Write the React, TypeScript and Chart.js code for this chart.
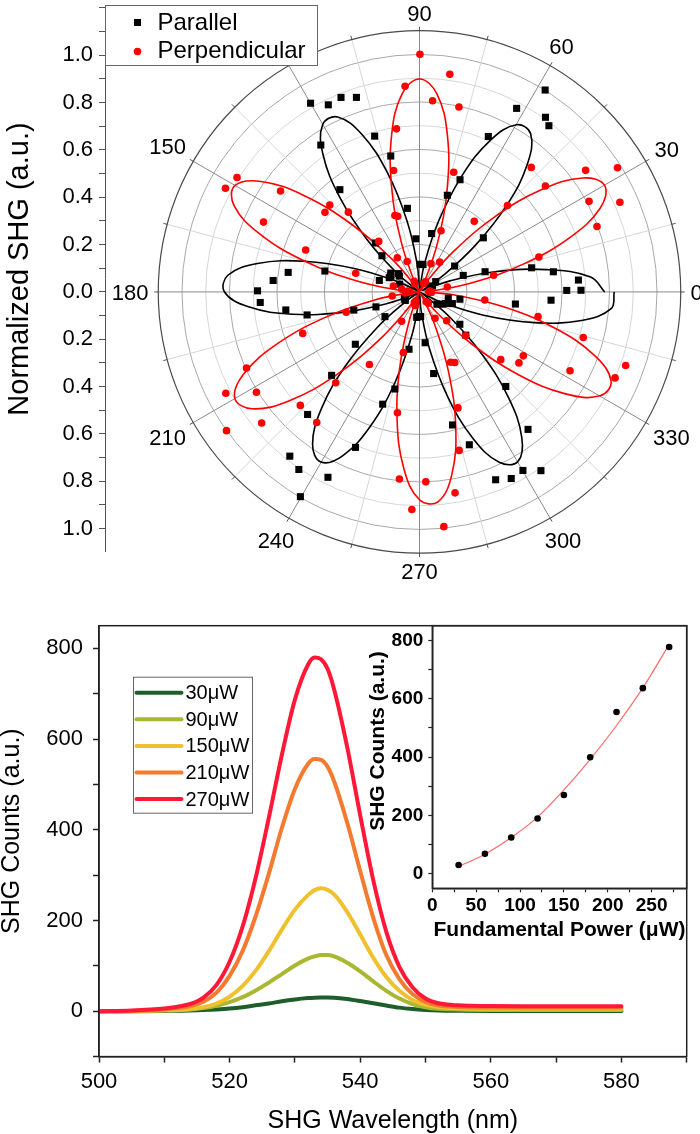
import React, { useEffect, useRef } from "react";
import { Chart, registerables } from "chart.js";
Chart.register(...registerables);

const FONT = "'Liberation Sans', Arial, Helvetica, sans-serif";

// ---------------- Polar panel data ----------------
const polarAngleLabels = [0, 30, 60, 90, 120, 150, 180, 210, 240, 270, 300, 330];

const parallelAngles = [0.6, 0.6, 4.3, 8.6, 12.2, 17.2, 20.8, 24.6, 28.6, 32.6, 36.5, 40.4, 52.2, 54.3, 58.2, 62.2, 66.2, 70.2, 74.0, 78.3, 82.8, 89.0, 93.9, 98.2, 101.9, 106.0, 107.9, 111.9, 115.9, 119.9, 123.8, 127.8, 131.9, 135.9, 139.0, 141.6, 146.6, 150.7, 154.7, 158.5, 163.9, 167.5, 171.5, 175.5, 179.6, 183.8, 187.7, 191.6, 195.5, 199.0, 202.5, 206.7, 211.0, 215.7, 219.3, 223.6, 227.7, 231.8, 235.9, 239.9, 243.8, 247.7, 251.9, 255.8, 259.7, 263.8, 267.0, 272.7, 276.3, 279.8, 283.9, 288.0, 292.0, 296.1, 300.0, 304.1, 308.2, 312.3, 316.9, 321.2, 325.0, 331.6, 336.0, 340.4, 347.7, 349.8, 352.8, 356.4];
const parallelR = [0.68, 0.62, 0.671, 0.57, 0.483, 0.289, 0.197, 0.06, 0.05, 0.081, 0.184, 0.353, 0.889, 0.909, 1.004, 0.877, 0.718, 0.504, 0.425, 0.252, 0.117, 0.117, 0.225, 0.357, 0.587, 0.685, 0.864, 0.886, 0.879, 0.92, 0.747, 0.547, 0.278, 0.22, 0.118, 0.108, 0.145, 0.138, 0.141, 0.09, 0.176, 0.408, 0.559, 0.618, 0.682, 0.672, 0.568, 0.483, 0.287, 0.194, 0.069, 0.068, 0.07, 0.179, 0.349, 0.511, 0.7, 0.883, 0.906, 1.0, 0.873, 0.71, 0.499, 0.423, 0.246, 0.108, 0.105, 0.104, 0.216, 0.35, 0.579, 0.679, 0.856, 0.878, 0.871, 0.912, 0.739, 0.54, 0.267, 0.218, 0.09, 0.109, 0.12, 0.147, 0.124, 0.173, 0.407, 0.555];

const perpAngles = [2, 5, 10.2, 12.7, 16.4, 20.3, 24.2, 28.2, 32.2, 36.3, 40.2, 44.6, 48.2, 52.3, 56.0, 60.0, 64.0, 68.0, 70.7, 74.1, 78.0, 82.1, 86.1, 89.9, 94.0, 98.0, 102.0, 106.0, 107.8, 112.0, 116.0, 120.0, 122.9, 128.8, 131.6, 135.8, 139.8, 143.9, 147.8, 151.8, 155.8, 159.7, 163.6, 167.0, 171.0, 176.0, 180.0, 184.0, 188.4, 195.5, 199.6, 203.8, 207.7, 211.7, 215.8, 219.8, 223.7, 227.4, 231.9, 235.5, 238.7, 244.0, 248.0, 252.0, 255.1, 259.7, 263.9, 268.0, 271.9, 275.9, 280.0, 284.0, 288.3, 293.8, 296.5, 300.5, 304.0, 308.0, 313.2, 316.4, 320.1, 324.4, 328.3, 332.3, 336.2, 340.3, 344.4, 348.2, 353.0, 357.0];
const perpR = [0.04, 0.044, 0.119, 0.32, 0.524, 0.797, 0.925, 0.81, 0.985, 0.868, 0.694, 0.52, 0.706, 0.377, 0.152, 0.05, 0.04, 0.129, 0.274, 0.526, 0.799, 0.929, 0.81, 1.004, 0.871, 0.696, 0.525, 0.333, 0.339, 0.139, 0.05, 0.04, 0.172, 0.274, 0.451, 0.527, 0.521, 0.724, 0.908, 0.927, 0.72, 0.511, 0.28, 0.113, 0.076, 0.05, 0.04, 0.06, 0.116, 0.32, 0.522, 0.796, 0.921, 0.807, 1.002, 0.865, 0.694, 0.521, 0.701, 0.372, 0.145, 0.05, 0.04, 0.06, 0.265, 0.519, 0.795, 0.92, 0.803, 0.997, 0.862, 0.69, 0.516, 0.325, 0.333, 0.129, 0.05, 0.06, 0.167, 0.269, 0.446, 0.515, 0.514, 0.716, 0.9, 0.922, 0.716, 0.51, 0.277, 0.05];

const fitAngles = [0, 5, 10, 15, 20, 25, 30, 35, 40, 45, 50, 55, 60, 65, 70, 75, 80, 85, 90, 95, 100, 105, 110, 115, 120, 125, 130, 135, 140, 145, 150, 155, 160, 165, 170, 175, 180, 185, 190, 195, 200, 205, 210, 215, 220, 225, 230, 235, 240, 245, 250, 255, 260, 265, 270, 275, 280, 285, 290, 295, 300, 305, 310, 315, 320, 325, 330, 335, 340, 345, 350, 355, 360];
const parallelFitR = [0.78, 0.723, 0.543, 0.329, 0.137, 0.02, 0.014, 0.122, 0.308, 0.522, 0.708, 0.816, 0.816, 0.708, 0.522, 0.308, 0.122, 0.014, 0.014, 0.122, 0.308, 0.522, 0.708, 0.816, 0.816, 0.708, 0.522, 0.308, 0.122, 0.014, 0.009, 0.107, 0.287, 0.501, 0.693, 0.81, 0.821, 0.723, 0.543, 0.329, 0.137, 0.02, 0.001, 0.067, 0.227, 0.437, 0.641, 0.785, 0.83, 0.763, 0.603, 0.393, 0.189, 0.045, 0.002, 0.079, 0.246, 0.458, 0.659, 0.794, 0.828, 0.751, 0.584, 0.372, 0.171, 0.036, 0.009, 0.107, 0.287, 0.501, 0.693, 0.81, 0.82];
const perpFitR = [0.022, 0.06, 0.225, 0.45, 0.675, 0.84, 0.9, 0.84, 0.675, 0.45, 0.225, 0.06, 0.0, 0.06, 0.225, 0.45, 0.675, 0.84, 0.9, 0.84, 0.675, 0.45, 0.225, 0.06, 0.0, 0.039, 0.185, 0.403, 0.633, 0.814, 0.898, 0.861, 0.715, 0.497, 0.267, 0.086, 0.002, 0.039, 0.185, 0.403, 0.633, 0.814, 0.898, 0.861, 0.715, 0.497, 0.267, 0.086, 0.002, 0.01, 0.116, 0.311, 0.544, 0.751, 0.878, 0.89, 0.784, 0.589, 0.356, 0.149, 0.022, 0.01, 0.116, 0.311, 0.544, 0.751, 0.878, 0.89, 0.784, 0.589, 0.356, 0.149, 0.022];

// ---------------- Spectra panel data ----------------
const wavelengths = [500, 505, 510, 512, 514, 516, 518, 520, 522, 524, 526, 528, 530, 532, 533, 534, 535, 536, 538, 540, 542, 544, 546, 548, 550, 552, 555, 560, 565, 570, 575, 580];
const spec30 = [0, 0, 0.5, 1, 1.5, 2.5, 4, 6, 9, 13, 17, 22, 26, 29, 30, 30.5, 30.5, 30, 27, 22.5, 17.5, 12.5, 8, 5, 3, 1.8, 1, 0.5, 0.5, 0.5, 0.5, 0.5];
const spec90 = [0, 0.5, 1.5, 2.5, 4, 7, 12, 20, 31, 46, 63, 82, 101, 116, 121, 124, 124, 121, 107, 88, 66, 45, 28, 16, 9, 5.5, 4, 3, 3, 3, 3, 3];
const spec150 = [0, 0.3, 2, 3, 5, 9, 17, 32, 56, 89.5, 132.5, 180, 224, 256, 267, 271, 267.5, 257.5, 219, 169, 118, 75.5, 45, 25, 14.5, 9.3, 6.5, 5.5, 5.5, 5.5, 5.5, 5.5];
const spec210 = [0, 0.5, 4, 7, 11.5, 21, 41, 78, 133, 210, 303, 404, 490, 545, 556, 554, 539, 507, 416, 309, 206, 124, 71, 38, 20.5, 12.5, 9.5, 8, 8, 8, 8, 8];
const spec270 = [0, 1.5, 6, 10, 16, 30, 58, 109, 187, 295, 426, 565, 687, 764, 780, 776, 755, 710, 583, 432, 289, 175, 98, 53, 28, 17.5, 13, 11.5, 11, 11, 11, 11];
const specLabels = ["30\u03bcW", "90\u03bcW", "150\u03bcW", "210\u03bcW", "270\u03bcW"];
const specColors = ["#1d5e2b", "#a9b733", "#efc12f", "#f37a2e", "#ff1838"];

// ---------------- Inset data ----------------
const powers = [30, 60, 90, 120, 150, 180, 210, 240, 270];
const counts = [30, 68, 124, 189, 270, 399, 554, 636, 777];
const fitPowers = [30, 60, 90, 120, 150, 180, 210, 240, 270];
const fitCounts = [25, 67, 124, 194, 287, 392, 508, 637, 786];
const insetYTicks = [0, 100, 200, 300, 400, 500, 600, 700, 800];

// ---------------- helpers ----------------
const toXY = (angles: number[], rs: number[]) =>
  angles.map((a, i) => ({ x: rs[i] * Math.cos((a * Math.PI) / 180), y: rs[i] * Math.sin((a * Math.PI) / 180) }));

const R_MAX = 1.1;
const RING_STEP = 0.1;
const LABEL_GAP = 1.141;

const polarDecor = {
  id: "polarDecor",
  beforeDatasetsDraw(chart: any) {
    const { ctx, scales } = chart;
    const xs = scales.x, ys = scales.y;
    const cx = xs.getPixelForValue(0), cy = ys.getPixelForValue(0);
    const unit = xs.getPixelForValue(1) - cx;
    ctx.save();
    ctx.lineWidth = 1;
    for (let k = 1; k <= 10; k++) {
      ctx.strokeStyle = k % 2 === 0 ? "#a8a8a8" : "#d6d6d6";
      ctx.beginPath();
      ctx.arc(cx, cy, unit * k * RING_STEP, 0, Math.PI * 2);
      ctx.stroke();
    }
    for (let a = 0; a < 360; a += 15) {
      const rad = (a * Math.PI) / 180;
      ctx.strokeStyle = a % 30 === 0 ? "#8a8a8a" : "#d6d6d6";
      ctx.beginPath();
      ctx.moveTo(cx, cy);
      ctx.lineTo(cx + unit * R_MAX * Math.cos(rad), cy - unit * R_MAX * Math.sin(rad));
      ctx.stroke();
      ctx.strokeStyle = "#555";
      ctx.beginPath();
      ctx.moveTo(cx + unit * R_MAX * Math.cos(rad), cy - unit * R_MAX * Math.sin(rad));
      ctx.lineTo(cx + (unit * R_MAX + 4) * Math.cos(rad), cy - (unit * R_MAX + 4) * Math.sin(rad));
      ctx.stroke();
    }
    ctx.strokeStyle = "#4a4a4a";
    ctx.lineWidth = 1.2;
    ctx.beginPath();
    ctx.arc(cx, cy, unit * R_MAX, 0, Math.PI * 2);
    ctx.stroke();
    const fs = 22;
    ctx.font = `${fs}px ${FONT}`;
    ctx.fillStyle = "#000";
    ctx.textAlign = "center";
    ctx.textBaseline = "alphabetic";
    const capH = fs * 0.72;
    for (const a of polarAngleLabels) {
      const rad = (a * Math.PI) / 180;
      const txt = String(a);
      const w = ctx.measureText(txt).width;
      const c = Math.cos(rad), s = Math.sin(rad);
      const d = unit * LABEL_GAP + (Math.abs(c) * w) / 2 + (Math.abs(s) * capH) / 2;
      ctx.fillText(txt, cx + d * c, cy - d * s + capH / 2);
    }
    ctx.restore();
  },
  afterDraw(chart: any) {
    const { ctx, chartArea: ca } = chart;
    const bx = ca.left + 0.5, by = ca.top + 0.5, bw = 212, bh = 60;
    ctx.save();
    ctx.fillStyle = "#fff";
    ctx.fillRect(bx, by, bw, bh);
    ctx.strokeStyle = "#666";
    ctx.lineWidth = 1;
    ctx.strokeRect(bx, by, bw, bh);
    ctx.font = `24px ${FONT}`;
    ctx.textAlign = "left";
    ctx.textBaseline = "middle";
    const mx = bx + 32;
    ctx.fillStyle = "#000";
    ctx.fillRect(mx - 3.5, by + 17 - 3.5, 7, 7);
    ctx.fillText(chart.data.datasets[1].label, bx + 52, by + 18);
    ctx.fillStyle = "#ff0000";
    ctx.beginPath();
    ctx.arc(mx, by + 46, 3.8, 0, Math.PI * 2);
    ctx.fill();
    ctx.fillStyle = "#000";
    ctx.fillText(chart.data.datasets[0].label, bx + 52, by + 46);
    ctx.restore();
  },
};

const framePlugin = {
  id: "frame",
  afterDraw(chart: any) {
    const { ctx, chartArea: ca } = chart;
    ctx.save();
    ctx.strokeStyle = "#222";
    ctx.lineWidth = 1.5;
    ctx.strokeRect(ca.left, ca.top, ca.right - ca.left, ca.bottom - ca.top);
    ctx.restore();
  },
};

const yTitlePlugin = {
  id: "yTitle",
  afterDraw(chart: any, _args: any, opts: any) {
    if (!opts || !opts.text) return;
    const ys = chart.scales.y;
    const { ctx } = chart;
    ctx.save();
    ctx.translate(opts.x, (ys.top + ys.bottom) / 2 + opts.dy);
    ctx.rotate(-Math.PI / 2);
    ctx.font = opts.font;
    ctx.fillStyle = "#000";
    ctx.textAlign = "center";
    ctx.textBaseline = "middle";
    ctx.fillText(opts.text, 0, 0);
    ctx.restore();
  },
};

const specLegend = {
  id: "specLegend",
  afterDraw(chart: any) {
    const { ctx, chartArea: ca } = chart;
    const bx = ca.left + 34.5, by = ca.top + 51.5, bw = 119, bh = 136;
    ctx.save();
    ctx.fillStyle = "#fff";
    ctx.fillRect(bx, by, bw, bh);
    ctx.strokeStyle = "#666";
    ctx.lineWidth = 1;
    ctx.strokeRect(bx, by, bw, bh);
    ctx.font = `20px ${FONT}`;
    ctx.textAlign = "left";
    ctx.textBaseline = "middle";
    const ds = chart.data.datasets.slice().reverse();
    ds.forEach((d: any, i: number) => {
      const y = by + 15.5 + i * 26.6;
      ctx.strokeStyle = d.borderColor;
      ctx.lineWidth = 4;
      ctx.lineCap = "round";
      ctx.beginPath();
      ctx.moveTo(bx + 3, y);
      ctx.lineTo(bx + 48, y);
      ctx.stroke();
      ctx.fillStyle = "#000";
      ctx.fillText(d.label, bx + 52, y + 1);
    });
    ctx.restore();
  },
};

export default function App() {
  const polarRef = useRef<HTMLCanvasElement>(null);
  const mainRef = useRef<HTMLCanvasElement>(null);
  const insetRef = useRef<HTMLCanvasElement>(null);

  useEffect(() => {
    Chart.defaults.font.family = FONT;
    Chart.defaults.color = "#000";

    const polar = new Chart(polarRef.current as HTMLCanvasElement, {
      type: "scatter",
      data: {
        datasets: [
          {
            label: "Perpendicular",
            data: toXY(perpAngles, perpR),
            pointStyle: "circle",
            pointRadius: 3.8,
            pointBorderWidth: 0,
            backgroundColor: "#ff0000",
            borderColor: "#ff0000",
            showLine: false,
          },
          {
            label: "Parallel",
            data: toXY(parallelAngles, parallelR),
            pointStyle: "rect",
            pointRadius: 5,
            pointBorderWidth: 0,
            backgroundColor: "#000",
            borderColor: "#000",
            showLine: false,
          },
          {
            label: "Perpendicular fit",
            data: toXY(fitAngles, perpFitR),
            showLine: true,
            pointRadius: 0,
            borderColor: "#ff0000",
            borderWidth: 1.6,
            tension: 0.4,
          },
          {
            label: "Parallel fit",
            data: toXY(fitAngles, parallelFitR),
            showLine: true,
            pointRadius: 0,
            borderColor: "#000",
            borderWidth: 1.6,
            tension: 0.4,
          },
        ],
      } as any,
      options: {
        responsive: false,
        devicePixelRatio: 1,
        animation: false,
        events: [],
        layout: { padding: { left: 0, top: 3, right: 8, bottom: 39 } },
        plugins: {
          legend: { display: false },
          tooltip: { enabled: false },
          yTitle: { text: "Normalized SHG (a.u.)", font: `29px ${FONT}`, x: 20, dy: -9 },
        },
        scales: {
          x: { type: "linear", display: false, min: -1.3242, max: 1.1474 },
          y: {
            type: "linear",
            min: -1.0947,
            max: 1.2126,
            afterFit: (s: any) => {
              s.width = 105;
              s.paddingTop = 0;
              s.paddingBottom = 0;
            },
            ticks: {
              stepSize: 0.1,
              autoSkip: false,
              includeBounds: false,
              padding: 6,
              font: { size: 22 },
              color: "#000",
              callback: (v: any) => {
                const n = Math.round(Number(v) * 10);
                if (n % 2 !== 0 || Math.abs(n) > 10) return "";
                return Math.abs(n / 10).toFixed(1);
              },
            },
            grid: { drawOnChartArea: false, tickLength: 6, tickColor: "#555" },
            border: { display: true, color: "#555", width: 1 },
            title: { display: false },
          },
        },
      } as any,
      plugins: [polarDecor, yTitlePlugin],
    });

    const specData = [spec270, spec210, spec150, spec90, spec30];
    const specIdx = [4, 3, 2, 1, 0];
    const main = new Chart(mainRef.current as HTMLCanvasElement, {
      type: "line",
      data: {
        datasets: specData.map((arr, i) => ({
          label: specLabels[specIdx[i]],
          data: wavelengths.map((w, j) => ({ x: w, y: arr[j] })),
          borderColor: specColors[specIdx[i]],
          borderWidth: 4,
          pointRadius: 0,
          cubicInterpolationMode: "monotone",
          borderCapStyle: "round",
          fill: false,
        })),
      } as any,
      options: {
        responsive: false,
        devicePixelRatio: 1,
        animation: false,
        events: [],
        layout: { padding: { left: 0, top: 35.7, right: 13.3, bottom: 0 } },
        plugins: {
          legend: { display: false },
          tooltip: { enabled: false },
          yTitle: { text: "SHG Counts (a.u.)", font: `25px ${FONT}`, x: 12, dy: -10 },
        },
        scales: {
          x: {
            type: "linear",
            min: 500,
            max: 590,
            afterFit: (s: any) => {
              s.height = 77.4;
            },
            ticks: {
              stepSize: 10,
              autoSkip: false,
              includeBounds: false,
              maxRotation: 0,
              padding: 6,
              font: { size: 22 },
              color: "#000",
              callback: (v: any) => (Number(v) % 20 === 0 ? String(v) : ""),
            },
            grid: { drawOnChartArea: false, tickLength: 6, tickColor: "#222", tickWidth: 1.5 },
            border: { display: true, color: "#222", width: 1.5 },
            title: {
              display: true,
              text: "SHG Wavelength (nm)",
              font: { size: 25, lineHeight: 1 },
              color: "#000",
              padding: { top: 0, bottom: 0 },
            },
          },
          y: {
            type: "linear",
            min: -100,
            max: 850,
            afterFit: (s: any) => {
              s.width = 99;
            },
            ticks: {
              stepSize: 100,
              autoSkip: false,
              includeBounds: false,
              padding: 10,
              font: { size: 22 },
              color: "#000",
              callback: (v: any) => (Number(v) % 200 === 0 ? String(v) : ""),
            },
            grid: { drawOnChartArea: false, tickLength: 6, tickColor: "#222", tickWidth: 1.5 },
            border: { display: true, color: "#222", width: 1.5 },
            title: { display: false },
          },
        },
      } as any,
      plugins: [framePlugin, specLegend, yTitlePlugin],
    });

    const inset = new Chart(insetRef.current as HTMLCanvasElement, {
      type: "scatter",
      data: {
        datasets: [
          {
            label: "SHG counts",
            data: powers.map((p, i) => ({ x: p, y: counts[i] })),
            pointStyle: "circle",
            pointRadius: 3.3,
            pointBorderWidth: 0,
            backgroundColor: "#000",
            borderColor: "#000",
            showLine: false,
          },
          {
            label: "fit",
            data: fitPowers.map((p, i) => ({ x: p, y: fitCounts[i] })),
            showLine: true,
            pointRadius: 0,
            borderColor: "rgba(255, 80, 80, 0.85)",
            borderWidth: 1.2,
            cubicInterpolationMode: "monotone",
          },
        ],
      } as any,
      options: {
        responsive: false,
        devicePixelRatio: 1,
        animation: false,
        events: [],
        layout: { padding: { left: 0, top: 25.7, right: 13.3, bottom: 0 } },
        plugins: {
          legend: { display: false },
          tooltip: { enabled: false },
          yTitle: { text: "SHG Counts (a.u.)", font: `bold 21px ${FONT}`, x: 38, dy: -16 },
        },
        scales: {
          x: {
            type: "linear",
            min: 0,
            max: 290,
            afterFit: (s: any) => {
              s.height = 52.7;
            },
            ticks: {
              stepSize: 25,
              autoSkip: false,
              includeBounds: false,
              maxRotation: 0,
              padding: 2,
              font: { size: 19, weight: "bold" },
              color: "#000",
              callback: (v: any) => (Number(v) % 50 === 0 ? String(v) : ""),
            },
            grid: { drawOnChartArea: false, tickLength: 4, tickColor: "#222", tickWidth: 1.2 },
            border: { display: true, color: "#222", width: 1.5 },
            title: {
              display: true,
              text: "Fundamental Power (\u03bcW)",
              font: { size: 21, weight: "bold", lineHeight: 1 },
              color: "#000",
              padding: { top: 0, bottom: 0 },
            },
          },
          y: {
            type: "linear",
            min: -50,
            max: 850,
            afterFit: (s: any) => {
              s.width = 92.3;
            },
            afterBuildTicks: (s: any) => {
              s.ticks = insetYTicks.map((v) => ({ value: v }));
            },
            ticks: {
              autoSkip: false,
              padding: 5,
              font: { size: 19, weight: "bold" },
              color: "#000",
              callback: (v: any) => (Number(v) % 200 === 0 ? String(v) : ""),
            },
            grid: { drawOnChartArea: false, tickLength: 4, tickColor: "#222", tickWidth: 1.2 },
            border: { display: true, color: "#222", width: 1.5 },
            title: { display: false },
          },
        },
      } as any,
      plugins: [framePlugin, yTitlePlugin],
    });

    return () => {
      polar.destroy();
      main.destroy();
      inset.destroy();
    };
  }, []);

  return (
    <div style={{ position: "absolute", left: 0, top: 0, width: 700, height: 1134, background: "#fff", overflow: "hidden" }}>
      <canvas ref={polarRef} width={700} height={590} style={{ position: "absolute", left: 0, top: 0, width: 700, height: 590 }} />
      <canvas ref={mainRef} width={700} height={544} style={{ position: "absolute", left: 0, top: 590, width: 700, height: 544 }} />
      <canvas ref={insetRef} width={360} height={341} style={{ position: "absolute", left: 340, top: 600, width: 360, height: 341 }} />
    </div>
  );
}
